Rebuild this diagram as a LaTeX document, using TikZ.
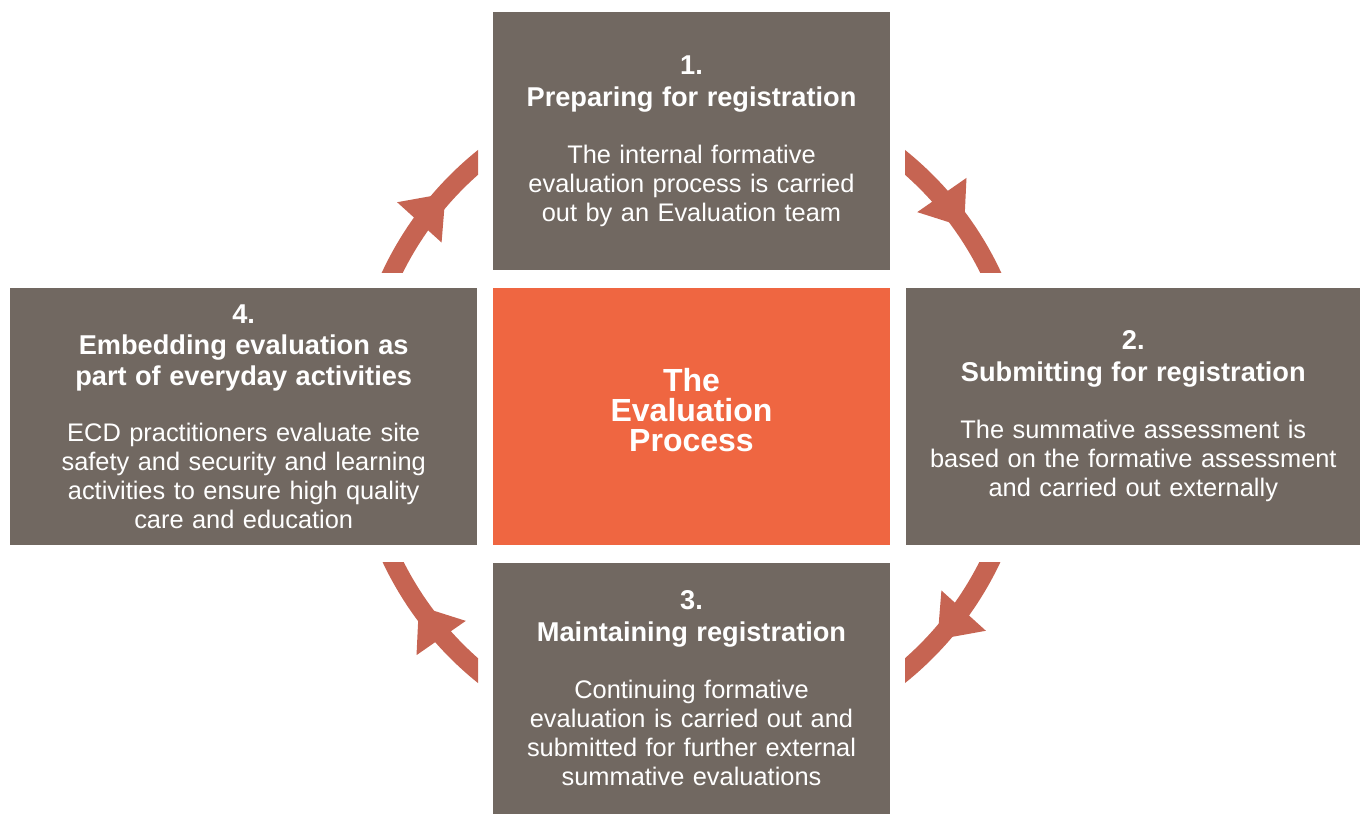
\documentclass[tikz,border=0pt]{standalone}
\usepackage{fontspec}
\setmainfont{Liberation Sans}
\usetikzlibrary{
  arrows.meta,
  positioning,
  decorations.markings
}

\definecolor{stagegray}{HTML}{716861}
\definecolor{coreorange}{HTML}{EF6641}
\definecolor{cyclered}{HTML}{C66452}

\newcommand{\stagehead}[1]{{\bfseries\fontsize{13.6}{15.5}\selectfont #1}}

\tikzset{
  stage/.style={fill=stagegray, text=white, align=center, inner sep=0pt,
    font=\fontsize{12.7}{14.5}\selectfont},
  core/.style={fill=coreorange, text=white, align=center, inner sep=0pt,
    font=\bfseries\fontsize{16}{15}\selectfont},
  cyclearrow/.style={color=cyclered, line width=9.5pt, postaction={decorate},
    decoration={markings, mark=at position 0.6 with
      {\arrow{Triangle[length=19.5pt, width=30pt, line width=0pt]}}}}
}

\begin{document}
\begin{tikzpicture}[x=0.5pt, y=0.5pt]
\useasboundingbox (0,0) rectangle (1360,-814);

% the process in the middle
\node[core, text width=198.5pt, minimum height=128.5pt] (process) at (691.5,-416.5)
  {The\\Evaluation\\Process\par\vspace{6pt}};

% the four stages round it
\node[stage, text width=198.5pt, minimum height=129pt, above=8.5pt of process] (prep)
  {\stagehead{1.}\\[1.5pt]\stagehead{Preparing for registration}\\[14pt]
   The internal formative\\evaluation process is carried\\out by an Evaluation team};
\node[stage, text width=227.5pt, minimum height=128.5pt, right=7.5pt of process] (submit)
  {\stagehead{2.}\\[1.5pt]\stagehead{Submitting for registration}\\[14pt]
   The summative assessment is\\based on the formative assessment\\and carried out externally};
\node[stage, text width=198.5pt, minimum height=125.5pt, below=8.5pt of process] (maintain)
  {\stagehead{3.}\\[1.5pt]\stagehead{Maintaining registration}\\[14pt]
   Continuing formative\\evaluation is carried out and\\submitted for further external\\summative evaluations};
\node[stage, text width=233.5pt, minimum height=128.5pt, left=7.5pt of process] (embed)
  {\stagehead{4.}\\[1pt]\stagehead{Embedding evaluation as}\\[1pt]\stagehead{part of everyday activities}\\[13.5pt]
   ECD practitioners evaluate site\\safety and security and learning\\activities to ensure high quality\\care and education};

% cycle arrows in the corners
\begin{scope}
  \clip (0,-272) rectangle (478,0);
  \draw[cyclearrow] (process.center) ++(160:332) arc[start angle=160, end angle=123, radius=332];
\end{scope}
\begin{scope}
  \clip (905,-272) rectangle (1360,0);
  \draw[cyclearrow] (process.center) ++(57:332) arc[start angle=57, end angle=20, radius=332];
\end{scope}
\begin{scope}
  \clip (905,-814) rectangle (1360,-562);
  \draw[cyclearrow] (process.center) ++(-20:332) arc[start angle=-20, end angle=-57, radius=332];
\end{scope}
\begin{scope}
  \clip (0,-814) rectangle (478,-562);
  \draw[cyclearrow] (process.center) ++(-123:332) arc[start angle=-123, end angle=-160, radius=332];
\end{scope}
\end{tikzpicture}
\end{document}
